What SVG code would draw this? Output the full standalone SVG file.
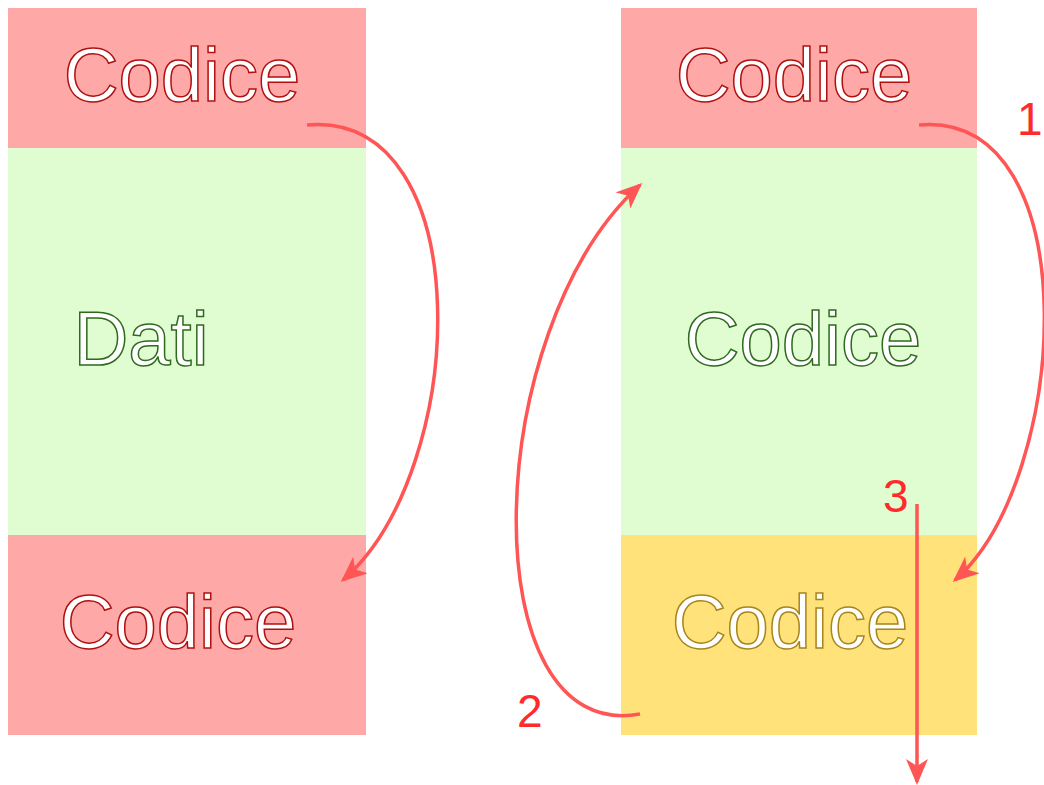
<svg xmlns="http://www.w3.org/2000/svg" width="1044" height="785" viewBox="0 0 1044 785">
<style>
.lbl{font-family:"Liberation Sans",Arial,sans-serif;font-size:76px;fill:#fff;stroke-width:1.5px;text-anchor:middle}
.r{stroke:#b01010}
.g{stroke:#2f6a1e}
.y{stroke:#a8861c}
.num{font-family:"Liberation Sans",Arial,sans-serif;font-size:46px;fill:#ff2a2a}
.arr{fill:none;stroke:#ff5555;stroke-width:3.5;marker-end:url(#ah)}
</style>
<defs>
<marker id="ah" viewBox="0 0 26 22" refX="23" refY="11" markerWidth="26" markerHeight="22" markerUnits="userSpaceOnUse" orient="auto">
<path d="M0,0 L26,11 L0,22 L7,11 Z" fill="#ff5555"/>
</marker>
</defs>
<rect width="1044" height="785" fill="#fff"/>
<g id="left-top"><rect x="8" y="8" width="358" height="140" fill="#ffa8a8"/><text class="lbl r" x="182" y="101">Codice</text></g>
<g id="left-mid"><rect x="8" y="148" width="358" height="387" fill="#e0fdd2"/><text class="lbl g" x="141" y="365">Dati</text></g>
<g id="left-bot"><rect x="8" y="535" width="358" height="200" fill="#ffa8a8"/><text class="lbl r" x="178" y="648">Codice</text></g>
<g id="right-top"><rect x="621" y="8" width="356" height="140" fill="#ffa8a8"/><text class="lbl r" x="794" y="101">Codice</text></g>
<g id="right-mid"><rect x="621" y="148" width="356" height="387" fill="#e0fdd2"/><text class="lbl g" x="803" y="365">Codice</text></g>
<g id="right-bot"><rect x="621" y="535" width="356" height="200" fill="#ffe27a"/><text class="lbl y" x="790" y="648">Codice</text></g>
<g id="connectors">
<path class="arr" d="M307,125 C480,110 470,470 343,580"/>
<path class="arr" d="M919,125 C1090,110 1070,480 955,580"/>
<path class="arr" d="M640,714 C470,745 480,330 640,185"/>
<path class="arr" d="M917,504 L917,782"/>
</g>
<g id="labels">
<text class="num" x="1017" y="135">1</text>
<text class="num" x="517" y="727">2</text>
<text class="num" x="883" y="512">3</text>
</g>
</svg>
